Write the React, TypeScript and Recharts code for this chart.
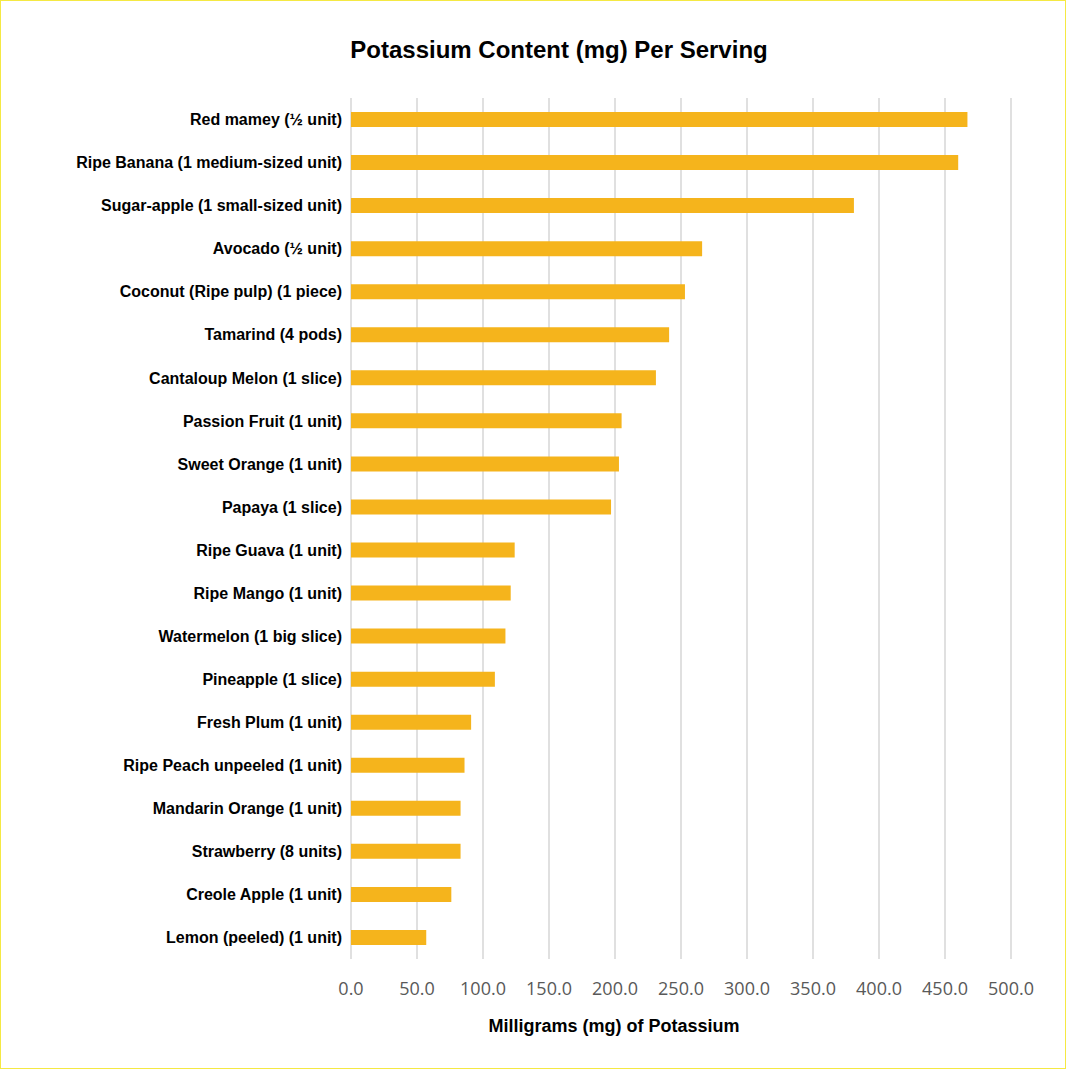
import React from 'react';
import { BarChart, Bar, XAxis, YAxis, CartesianGrid, Label } from 'recharts';

const foods = [
  'Red mamey (½ unit)',
  'Ripe Banana (1 medium-sized unit)',
  'Sugar-apple (1 small-sized unit)',
  'Avocado (½ unit)',
  'Coconut (Ripe pulp) (1 piece)',
  'Tamarind (4 pods)',
  'Cantaloup Melon (1 slice)',
  'Passion Fruit (1 unit)',
  'Sweet Orange (1 unit)',
  'Papaya (1 slice)',
  'Ripe Guava (1 unit)',
  'Ripe Mango (1 unit)',
  'Watermelon (1 big slice)',
  'Pineapple (1 slice)',
  'Fresh Plum (1 unit)',
  'Ripe Peach unpeeled (1 unit)',
  'Mandarin Orange (1 unit)',
  'Strawberry (8 units)',
  'Creole Apple (1 unit)',
  'Lemon (peeled) (1 unit)',
];

const potassium = [
  467, 460, 381, 266, 253, 241, 231, 205, 203, 197,
  124, 121, 117, 109, 91, 86, 83, 83, 76, 57,
];

const xTicks = [0, 50, 100, 150, 200, 250, 300, 350, 400, 450, 500];

const data = foods.map((name, i) => ({ name, value: potassium[i] }));

const App = () => {
  return (
    <div
      style={{
        position: 'absolute',
        left: 0,
        top: 0,
        width: 1066,
        height: 1069,
        border: '1px solid #f5e943',
        boxSizing: 'border-box',
        background: '#fff',
      }}
    >
      <div
        style={{
          position: 'absolute',
          left: 0,
          top: 35,
          width: 1116,
          textAlign: 'center',
          fontFamily: '"Liberation Sans", Arial, sans-serif',
          fontWeight: 'bold',
          fontSize: 24,
          color: '#000',
        }}
      >
        Potassium Content (mg) Per Serving
      </div>
      <BarChart
        width={1064}
        height={1067}
        data={data}
        layout="vertical"
        barSize={15}
        margin={{ top: 97, right: 54, bottom: 49, left: 10 }}
      >
        <CartesianGrid horizontal={false} stroke="#e0e0e0" strokeWidth={2} />
        <XAxis
          type="number"
          domain={[0, 500]}
          ticks={xTicks}
          tickFormatter={(v: number) => v.toFixed(1)}
          axisLine={false}
          tickLine={false}
          tickSize={0}
          tickMargin={23}
          height={60}
          tick={{ fill: '#595959', fontSize: 18, fontFamily: '"Open Sans", sans-serif' }}
        >
          <Label
            value="Milligrams (mg) of Potassium"
            position="bottom"
            dx={-67}
            offset={0}
            style={{
              fill: '#000',
              fontSize: 18,
              fontWeight: 'bold',
              fontFamily: '"Liberation Sans Narrow", "Arial Narrow", sans-serif',
            }}
          />
        </XAxis>
        <YAxis
          type="category"
          dataKey="name"
          width={340}
          interval={0}
          axisLine={false}
          tickLine={false}
          tickSize={0}
          tickMargin={9}
          tick={{
            fill: '#000',
            fontSize: 16,
            fontWeight: 'bold',
            fontFamily: '"Liberation Sans Narrow", "Arial Narrow", sans-serif',
          }}
        />
        <Bar dataKey="value" fill="#f5b41c" isAnimationActive={false} />
      </BarChart>
    </div>
  );
};

export default App;
